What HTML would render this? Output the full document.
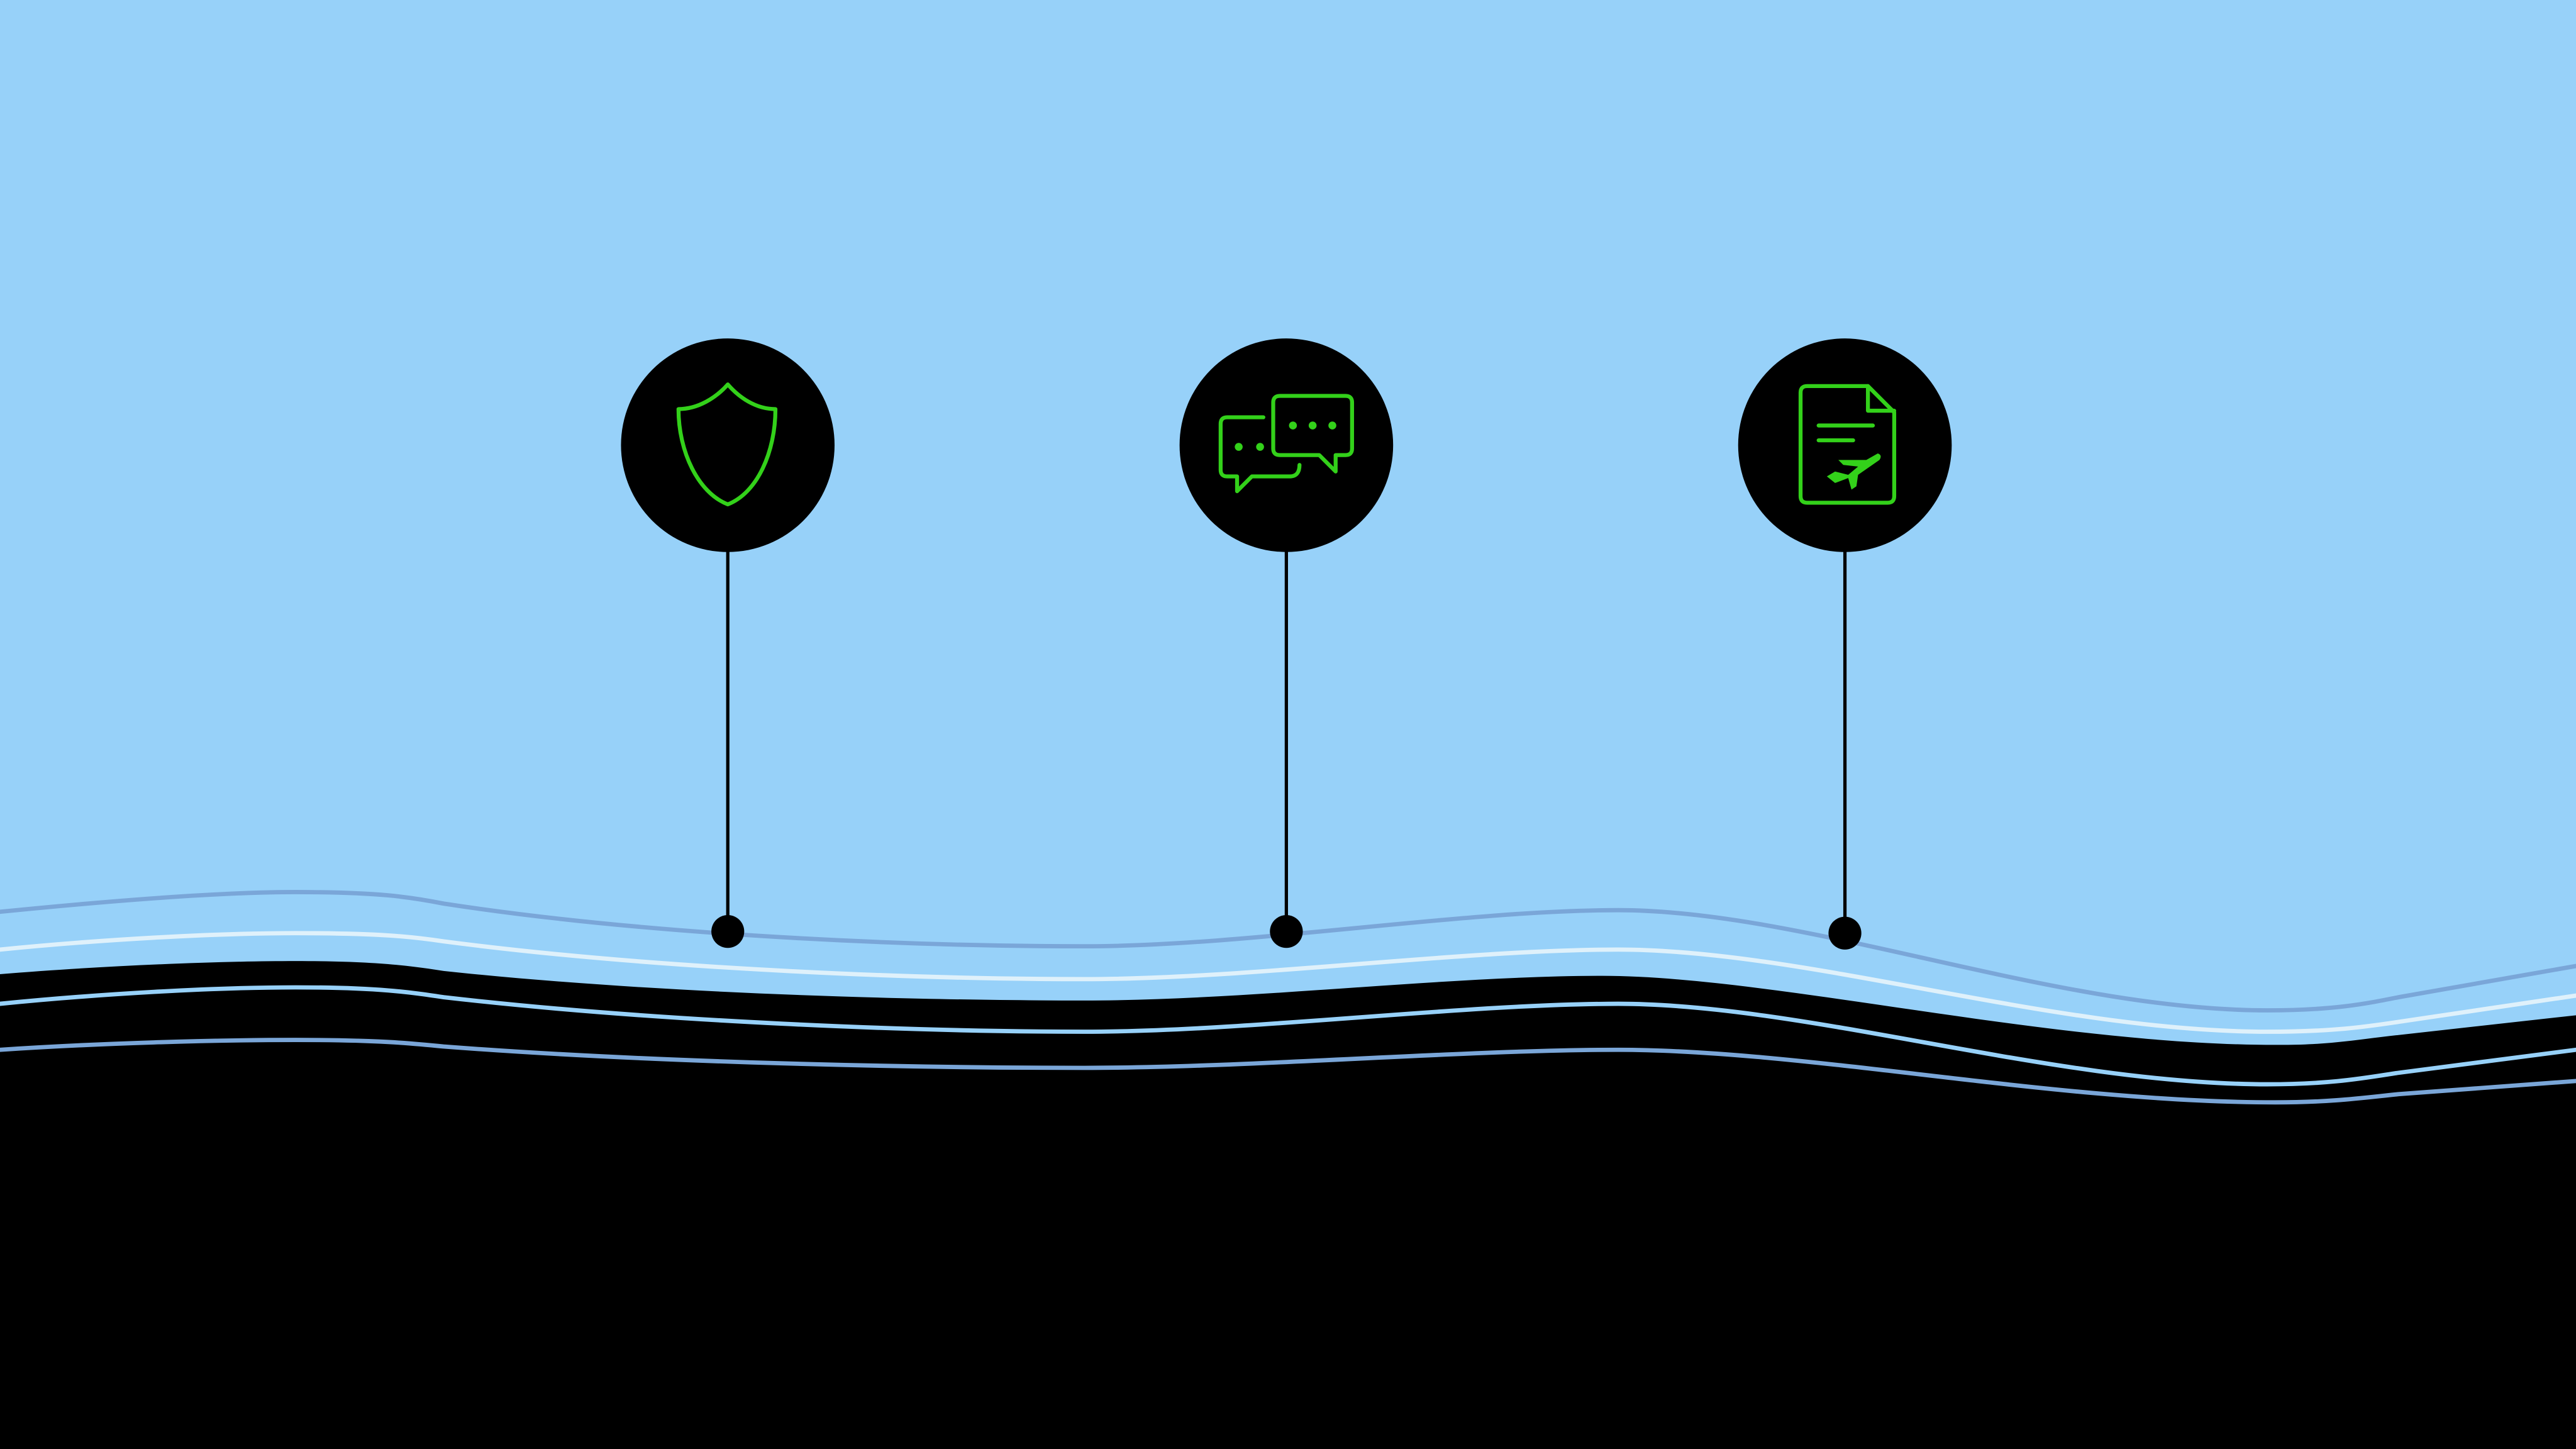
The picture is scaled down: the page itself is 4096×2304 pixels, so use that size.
<!DOCTYPE html>
<html><head><meta charset="utf-8"><style>
html,body{margin:0;padding:0;background:#97d1f9;}
svg{display:block;}
</style></head><body>
<svg width="4096" height="2304" viewBox="0 0 1568 882" preserveAspectRatio="none" xmlns="http://www.w3.org/2000/svg">
<rect width="1568" height="882" fill="#97d1f9"/>
<!-- black fill -->
<path d="M0,593 C60,588 130,585 180,585 C230,585 250,588 270,591 C400,605 560,609 660,609 C760,609 880,594 975,594 C1080,594 1250,637 1390,636 C1420,636 1440,632 1460,630 L1568,618 L1568,882 L0,882 Z" fill="#000"/>
<g fill="none" stroke-linecap="round">
<path d="M0,555 C60,549 130,543 180,543 C230,543 250,546 270,550 C400,570 560,576 660,576 C760,576 890,554 985,554 C1100,554 1250,615 1380,615 C1420,615 1440,611 1460,607 L1568,588" stroke="#7aa6d8" stroke-width="2.6"/>
<path d="M0,578 C60,572 130,568 180,568 C230,568 250,570 270,573 C400,590 560,596 660,596 C760,596 890,578 985,578 C1100,578 1250,628 1380,628 C1420,628 1440,625 1460,622 L1568,606" stroke="#dff1fb" stroke-width="2.6"/>
<path d="M0,611 C60,605 130,601 180,601 C230,601 250,604 270,607 C400,622 560,628 660,628 C760,628 890,611 985,611 C1100,611 1250,660 1380,660 C1420,660 1440,656 1460,653 L1568,639" stroke="#97d1f9" stroke-width="2.6"/>
<path d="M0,639 C60,635 130,633 180,633 C230,633 250,635 270,637 C400,647 560,650 660,650 C760,650 890,639 985,639 C1100,639 1250,671 1385,671 C1420,671 1440,668 1460,666 L1568,658" stroke="#7aa6d8" stroke-width="2.6"/>
</g>
<!-- stems -->
<g stroke="#000" stroke-width="2">
<line x1="443" y1="300" x2="443" y2="567"/>
<line x1="783" y1="300" x2="783" y2="567"/>
<line x1="1123" y1="300" x2="1123" y2="568"/>
</g>
<g fill="#000">
<circle cx="443" cy="271" r="65"/><circle cx="783" cy="271" r="65"/><circle cx="1123" cy="271" r="65"/>
<circle cx="443" cy="567" r="10"/><circle cx="783" cy="567" r="10"/><circle cx="1123" cy="568" r="10"/>
</g>
<g fill="none" stroke="#33d11a" stroke-width="2.4" stroke-linejoin="round" stroke-linecap="round">
<path d="M443,234 C436,242 425,249 413,249 C413,275 425,300 443,307 C461,300 472,275 472,249 C460,249 450,242 443,234Z"/>
<path d="M779,241 L819,241 Q823,241 823,245 L823,273 Q823,277 819,277 L813,277 L813,287 L803,277 L779,277 Q775,277 775,273 L775,245 Q775,241 779,241Z"/>
<path d="M769,254 L747,254 Q743,254 743,258 L743,286 Q743,290 747,290 L753,290 L753,299 L762,290 L785,290 Q791,290 791,283"/>
<path d="M1100,235 L1137,235 L1153,251 L1153,302 Q1153,306 1149,306 L1100,306 Q1096,306 1096,302 L1096,239 Q1096,235 1100,235Z"/>
<path d="M1137,235 L1137,250 L1153,250"/>
<line x1="1107" y1="259" x2="1140" y2="259"/>
<line x1="1107" y1="268" x2="1128" y2="268"/>
</g>
<g fill="#33d11a">
<circle cx="787" cy="259" r="2.4"/><circle cx="799" cy="259" r="2.4"/><circle cx="811" cy="259" r="2.4"/>
<circle cx="754" cy="272" r="2.4"/><circle cx="767" cy="272" r="2.4"/>
<path d="M1143,276 L1136,280 L1119,280 L1122,283 L1131,284 L1125,289 L1117,287 L1112,290 L1117,294 L1125,291 L1127,298 L1130,296 L1131,289 L1144,280 Q1146,277 1143,276Z"/>
</g>
</svg>
</body></html>
